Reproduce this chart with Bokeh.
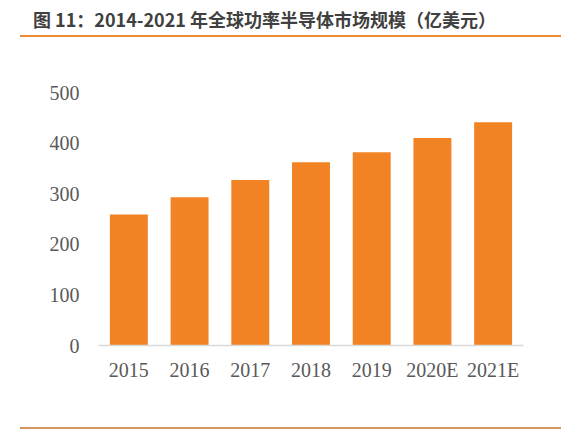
from bokeh.models import ColumnDataSource, Div, FixedTicker
from bokeh.layouts import column
from bokeh.plotting import figure
from bokeh.embed import file_html
from bokeh.resources import INLINE

# global power semiconductor market, 100M USD
years = ["2015", "2016", "2017", "2018", "2019", "2020E", "2021E"]
market_size = [259, 293, 327, 362, 382, 410, 441]
y_ticks = [0, 100, 200, 300, 400, 500]
title_text = "图 11：2014-2021 年全球功率半导体市场规模（亿美元）"

source = ColumnDataSource(data=dict(year=years, size=market_size))

title_div = Div(text="""<div style="width:541px;box-sizing:border-box;padding:0 0 5px 13px;
line-height:22px;font-family:'Noto Sans CJK SC';font-weight:bold;font-size:18px;color:#404040;
border-bottom:2px solid #ec8a2f;white-space:nowrap;">{}</div>""".format(title_text),
                width=553, height=29, margin=(8, 0, 0, 20))

p = figure(x_range=years, y_range=(0, 500), frame_width=425, frame_height=253,
           min_border_left=90, min_border_right=46, min_border_top=55, min_border_bottom=72,
           output_backend="svg", toolbar_location=None)
p.margin = (0, 0, 0, 8)
p.vbar(x="year", top="size", width=0.625, source=source, fill_color="#f28325", line_color=None)

p.outline_line_color = None
p.xgrid.grid_line_color = None
p.ygrid.grid_line_color = None

# y axis: labels only
p.yaxis.ticker = FixedTicker(ticks=y_ticks)
p.yaxis.axis_line_color = None
p.yaxis.major_tick_line_color = None
p.yaxis.minor_tick_line_color = None
p.yaxis.major_label_standoff = 13
p.yaxis.major_label_text_font = "Liberation Serif"
p.yaxis.major_label_text_font_size = "20px"
p.yaxis.major_label_text_color = "#595959"

# x axis: light baseline
p.xaxis.axis_line_color = "#d9d9d9"
p.xaxis.axis_line_width = 1.5
p.xaxis.major_tick_line_color = None
p.xaxis.major_label_standoff = 7
p.xaxis.major_label_text_font = "Liberation Serif"
p.xaxis.major_label_text_font_size = "20px"
p.xaxis.major_label_text_color = "#595959"

bottom_div = Div(text='<div style="width:541px;height:2px;background:#d4965b;"></div>',
                 width=541, height=2, margin=(0, 0, 0, 20))

layout = column(title_div, p, bottom_div)
open("out.html", "w").write(file_html(layout, INLINE))
